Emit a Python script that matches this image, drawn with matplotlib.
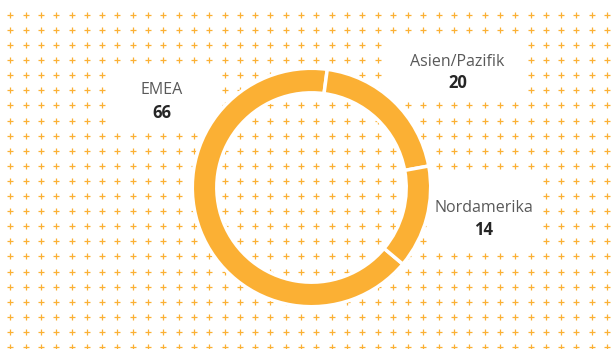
import numpy as np
import matplotlib
matplotlib.use("Agg")
from matplotlib import pyplot as plt
from matplotlib.patches import Rectangle

# data
regions = ["EMEA", "Asien/Pazifik", "Nordamerika"]
shares = [66, 20, 14]

GOLD = "#FBB034"
W, H = 612, 349

fig = plt.figure(figsize=(W / 100, H / 100), dpi=100)
fig.patch.set_facecolor("white")

# background layer in pixel units, y pointing down
bg = fig.add_axes([0, 0, 1, 1])
bg.set_xlim(0, W)
bg.set_ylim(H, 0)
bg.axis("off")

# grid of little plus signs
gx, gy = np.meshgrid(np.arange(40) * 15.3 + 10.3, np.arange(23) * 15.1 + 14.8)
bg.scatter(gx.ravel(), gy.ravel(), marker="+", s=25, linewidths=0.9,
           color=GOLD, zorder=1)

# label placement: white box (x, y, w, h), text x, name baseline, value baseline
label_layout = {
    "EMEA":          ((106, 64, 112, 64), 162, 93.5, 117.5),
    "Asien/Pazifik": ((383, 38, 142, 61), 457.5, 66.5, 88),
    "Nordamerika":   ((429, 175, 112, 73), 484, 212.5, 235),
}

for name, value in zip(regions, shares):
    box, tx, y_name, y_val = label_layout[name]
    bg.add_patch(Rectangle(box[:2], box[2], box[3], facecolor="white",
                           edgecolor="none", zorder=2))
    bg.text(tx, y_name, name, ha="center", va="baseline", fontsize=11.5,
            family="Open Sans", color="#595959", zorder=3)
    bg.text(tx, y_val, f"{value}", ha="center", va="baseline", fontsize=12,
            family="Open Sans", fontweight="bold", color="#262626", zorder=3)

# donut ring
cx, cy, half = 311.5, 187.5, 120
ax = fig.add_axes([(cx - half) / W, (H - cy - half) / H, 2 * half / W, 2 * half / H])
ax.pie(shares, radius=119.2, startangle=-40, counterclock=False,
       colors=[GOLD] * len(shares),
       wedgeprops=dict(width=24.5, edgecolor="white", linewidth=2.5))
ax.set_xlim(-half, half)
ax.set_ylim(-half, half)
ax.axis("off")

fig.savefig("out.png", dpi=100, facecolor="white")
